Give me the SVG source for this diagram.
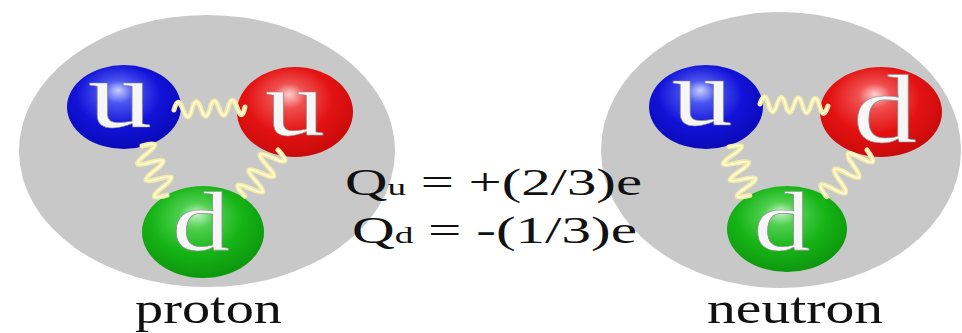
<svg xmlns="http://www.w3.org/2000/svg" width="962" height="333" viewBox="0 0 962 333">
<defs>
<radialGradient id="gBlue" cx="0.45" cy="0.4" r="0.62" fx="0.45" fy="0.3">
<stop offset="0" stop-color="#c8d0ff"/>
<stop offset="0.22" stop-color="#4a55f0"/>
<stop offset="0.6" stop-color="#1212d8"/>
<stop offset="1" stop-color="#0a0ab8"/>
</radialGradient>
<radialGradient id="gRed" cx="0.45" cy="0.4" r="0.62" fx="0.45" fy="0.3">
<stop offset="0" stop-color="#ffd0d0"/>
<stop offset="0.22" stop-color="#f05050"/>
<stop offset="0.6" stop-color="#e41212"/>
<stop offset="1" stop-color="#c80a0a"/>
</radialGradient>
<radialGradient id="gGreen" cx="0.45" cy="0.4" r="0.62" fx="0.45" fy="0.3">
<stop offset="0" stop-color="#c8f5c8"/>
<stop offset="0.22" stop-color="#50d050"/>
<stop offset="0.6" stop-color="#16b416"/>
<stop offset="1" stop-color="#0c960c"/>
</radialGradient>
</defs>
<style>
.hadron{fill:#c8c8c8}
.spring{fill:none;stroke:#f2eca0;stroke-width:5;stroke-linecap:round;stroke-linejoin:round}
.springhi{fill:none;stroke:#fffbe6;stroke-width:1.6;stroke-linecap:round}
.q{font-family:"Liberation Serif","Times New Roman",serif;fill:#f6f6f6;stroke:#8a8a8a;stroke-width:0.6;text-anchor:middle}
.lbl{font-family:"Liberation Serif","Times New Roman",serif;fill:#111}
</style>
<rect width="962" height="333" fill="#ffffff"/>

<g id="proton">
<ellipse class="hadron" cx="207" cy="151" rx="188" ry="136"/>
</g>
<g id="neutron">
<ellipse class="hadron" cx="781" cy="150" rx="180" ry="138"/>
</g>

<g id="proton-u-blue">
<ellipse cx="124" cy="107" rx="57" ry="42" fill="url(#gBlue)"/>
<text class="q" x="120" y="127" font-size="96" textLength="64" lengthAdjust="spacingAndGlyphs">u</text>
</g>
<g id="proton-u-red">
<ellipse cx="295" cy="112" rx="58" ry="45" fill="url(#gRed)"/>
<text class="q" x="295" y="135" font-size="94" textLength="60" lengthAdjust="spacingAndGlyphs">u</text>
</g>
<g id="proton-d-green">
<ellipse cx="203" cy="232" rx="61" ry="46" fill="url(#gGreen)"/>
<text class="q" x="201" y="250" font-size="84" textLength="58" lengthAdjust="spacingAndGlyphs">d</text>
</g>

<g id="neutron-u-blue">
<ellipse cx="706" cy="107" rx="57" ry="42" fill="url(#gBlue)"/>
<text class="q" x="702" y="125" font-size="96" textLength="61" lengthAdjust="spacingAndGlyphs">u</text>
</g>
<g id="neutron-d-red">
<ellipse cx="881" cy="112" rx="61" ry="45" fill="url(#gRed)"/>
<text class="q" x="885" y="142" font-size="97" textLength="64" lengthAdjust="spacingAndGlyphs">d</text>
</g>
<g id="neutron-d-green">
<ellipse cx="787" cy="229" rx="60" ry="43" fill="url(#gGreen)"/>
<text class="q" x="782" y="250" font-size="84" textLength="57" lengthAdjust="spacingAndGlyphs">d</text>
</g>

<g id="connectors">
<g transform="translate(174,110) rotate(-2.4)">
<path class="spring" d="M0,0 q4.5,-15 9,0 t9,0 t9,0 t9,0 t9,0 t9,0 t9,0 t8,0"/>
<path class="springhi" d="M0,0 q4.5,-15 9,0 t9,0 t9,0 t9,0 t9,0 t9,0 t9,0 t8,0"/>
</g>
<g transform="translate(142,146) rotate(63)">
<path class="spring" d="M0,0 q4.6,-24 9.2,0 t9.2,0 t9.2,0 t9.2,0 t9.2,0 t9.2,0"/>
<path class="springhi" d="M0,0 q4.6,-24 9.2,0 t9.2,0 t9.2,0 t9.2,0 t9.2,0 t9.2,0"/>
</g>
<g transform="translate(278,150) rotate(125.7)">
<path class="spring" d="M0,0 q4.75,-24 9.5,0 t9.5,0 t9.5,0 t9.5,0 t9.5,0 t9.5,0"/>
<path class="springhi" d="M0,0 q4.75,-24 9.5,0 t9.5,0 t9.5,0 t9.5,0 t9.5,0 t9.5,0"/>
</g>
<g transform="translate(760,104) rotate(1.7)">
<path class="spring" d="M0,0 q4.25,-15 8.5,0 t8.5,0 t8.5,0 t8.5,0 t8.5,0 t8.5,0 t8.5,0 t8.5,0"/>
<path class="springhi" d="M0,0 q4.25,-15 8.5,0 t8.5,0 t8.5,0 t8.5,0 t8.5,0 t8.5,0 t8.5,0 t8.5,0"/>
</g>
<g transform="translate(729,147) rotate(66.8)">
<path class="spring" d="M0,0 q4.4,-24 8.8,0 t8.8,0 t8.8,0 t8.8,0 t8.8,0 t8.8,0"/>
<path class="springhi" d="M0,0 q4.4,-24 8.8,0 t8.8,0 t8.8,0 t8.8,0 t8.8,0 t8.8,0"/>
</g>
<g transform="translate(867,150) rotate(131)">
<path class="spring" d="M0,0 q5.15,-24 10.3,0 t10.3,0 t10.3,0 t10.3,0 t10.3,0 t10.3,0"/>
<path class="springhi" d="M0,0 q5.15,-24 10.3,0 t10.3,0 t10.3,0 t10.3,0 t10.3,0 t10.3,0"/>
</g>
</g>

<g id="charges">
<text class="lbl" x="345" y="195" font-size="38" textLength="297" lengthAdjust="spacingAndGlyphs">Q<tspan font-size="24">u</tspan> = +(2/3)e</text>
<text class="lbl" x="352" y="243" font-size="38" textLength="285" lengthAdjust="spacingAndGlyphs">Q<tspan font-size="24">d</tspan> = -(1/3)e</text>
</g>
<g id="labels">
<text class="lbl" x="135" y="323" font-size="44" textLength="147" lengthAdjust="spacingAndGlyphs">proton</text>
<text class="lbl" x="707" y="323" font-size="44" textLength="176" lengthAdjust="spacingAndGlyphs">neutron</text>
</g>
</svg>
